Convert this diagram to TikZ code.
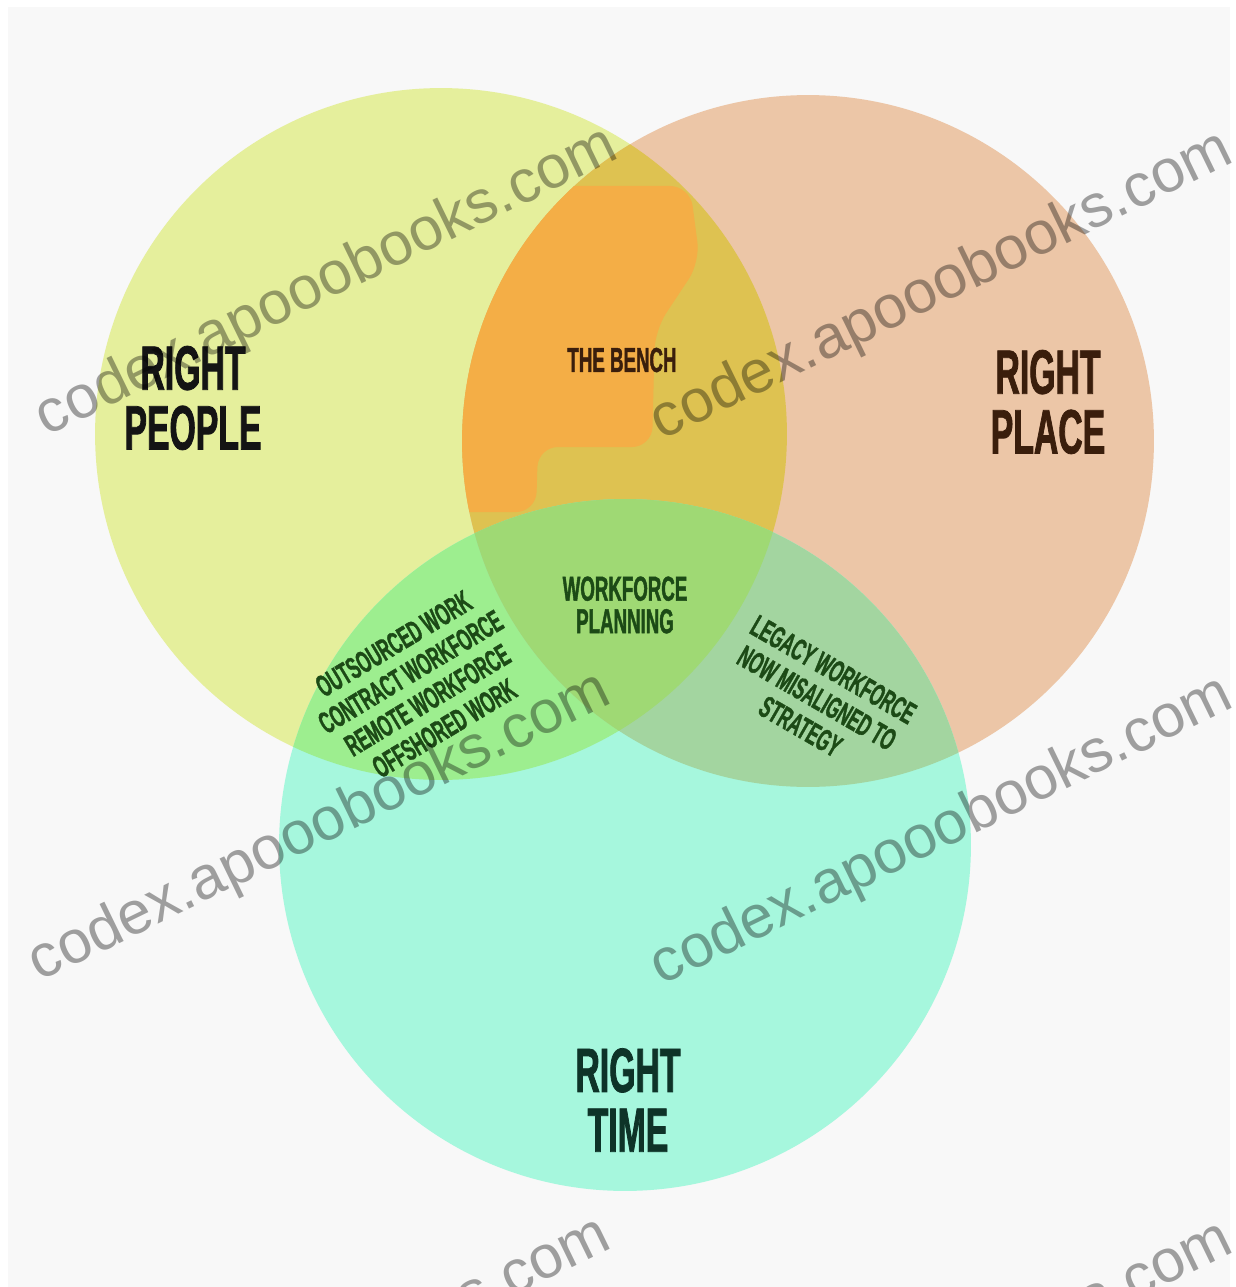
\documentclass[tikz,border=0pt]{standalone}
\usepackage{fontspec}
\setmainfont{Liberation Sans}
\newfontfamily\condfont{Liberation Sans}[FakeStretch=0.54, FakeBold=1.2]
\newfontfamily\wmfont{Liberation Sans}
\definecolor{bgc}{HTML}{F8F8F8}
\definecolor{yel}{HTML}{E5EF9C}
\definecolor{pea}{HTML}{ECC6A7}
\definecolor{cya}{HTML}{A6F7DD}
\definecolor{gol}{HTML}{DEC251}
\definecolor{ora}{HTML}{F4AE46}
\definecolor{lgr}{HTML}{9DEE8F}
\definecolor{sag}{HTML}{A3D5A0}
\definecolor{cgr}{HTML}{9FD974}
\definecolor{tblack}{HTML}{141414}
\definecolor{tbrown}{HTML}{3A1E0C}
\definecolor{tgreen}{HTML}{1C4A16}
\definecolor{tteal}{HTML}{0E3328}
\tikzset{
  big/.style={font=\condfont\bfseries\fontsize{35.6}{34}\selectfont, align=center, inner sep=0pt},
  mid/.style={font=\condfont\bfseries\fontsize{19.7}{18.5}\selectfont, align=center, inner sep=0pt},
  small/.style={font=\condfont\bfseries\fontsize{17.5}{18.7}\selectfont, align=center, inner sep=0pt, text=tgreen},
  wm/.style={font=\wmfont\fontsize{34.4}{34.4}\selectfont, text=black, text opacity=0.36, rotate=26, inner sep=0pt},
}
\def\rr{6.92cm}
\begin{document}
\begin{tikzpicture}[x=0.02cm, y=-0.02cm]
\useasboundingbox (0,0) rectangle (1235,1287);
\clip (0,0) rectangle (1235,1287);
\fill[white] (0,0) rectangle (1235,1287);
\fill[bgc] (8,7) rectangle (1230,1287);
% centres
\coordinate (cl) at (441,434);
\coordinate (cr) at (808,441);
\coordinate (cb) at (625,845);
% single circles
\fill[yel] (cl) circle[radius=\rr];
\fill[pea] (cr) circle[radius=\rr];
\fill[cya] (cb) circle[radius=\rr];
% left & right lens
\begin{scope}
  \clip (cl) circle[radius=\rr];
  \fill[gol] (cr) circle[radius=\rr];
  \clip (cr) circle[radius=\rr];
  \fill[ora, rounded corners=0.4cm] (430,186) -- (690,186) -- (700,262) -- (655,330) -- (652,447) -- (538,447) -- (536,512) -- (430,512) -- cycle;
\end{scope}
% left & bottom
\begin{scope}
  \clip (cl) circle[radius=\rr];
  \fill[lgr] (cb) circle[radius=\rr];
\end{scope}
% right & bottom
\begin{scope}
  \clip (cr) circle[radius=\rr];
  \fill[sag] (cb) circle[radius=\rr];
\end{scope}
% all three
\begin{scope}
  \clip (cl) circle[radius=\rr];
  \clip (cr) circle[radius=\rr];
  \fill[cgr] (cb) circle[radius=\rr];
\end{scope}
% labels
\node[big, text=tblack] (people) at (193,398) {RIGHT\\PEOPLE};
\node[big, text=tbrown] (place) at (1048,402) {RIGHT\\PLACE};
\node[big, text=tteal] (time) at (628,1100) {RIGHT\\TIME};
\node[mid, text=tbrown] (bench) at (622,360) {THE BENCH};
\node[mid, text=tgreen] (wfp) at (625,605) {WORKFORCE\\PLANNING};
\node[small, rotate=31] (outs) at (419,686) {OUTSOURCED WORK\\CONTRACT WORKFORCE\\REMOTE WORKFORCE\\OFFSHORED WORK};
\node[small, rotate=-30] (legacy) at (817,698) {LEGACY WORKFORCE\\NOW MISALIGNED TO\\STRATEGY};
% watermarks
\node[wm] (wm1) at (327,283) {codex.apooobooks.com};
\node[wm] (wm2) at (942,287) {codex.apooobooks.com};
\node[wm] (wm3) at (320,828) {codex.apooobooks.com};
\node[wm] (wm4) at (942,832) {codex.apooobooks.com};
\node[wm] (wm5) at (320,1373) {codex.apooobooks.com};
\node[wm] (wm6) at (942,1377) {codex.apooobooks.com};
\end{tikzpicture}
\end{document}
